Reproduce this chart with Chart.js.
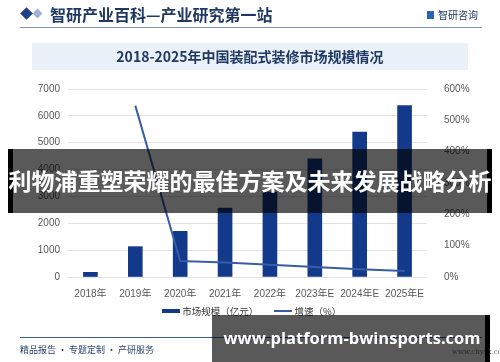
<!DOCTYPE html>
<html>
<head>
<meta charset="utf-8">
<script src="https://cdn.jsdelivr.net/npm/chart.js@4"></script>
<style>
  html, body { margin: 0; padding: 0; background: #fff; }
  #wrap { position: relative; width: 500px; height: 362px; overflow: hidden; font-family: "Noto Sans CJK SC", sans-serif; }
  #chart { position: absolute; left: 0; top: 0; }
  .abs { position: absolute; }
  #head { left: 50px; top: 3px; font-size: 16px; font-weight: bold; color: #1f3864; line-height: 22px; }
  .dia { width: 9px; height: 9px; transform: rotate(45deg); }
  #hline { left: 20px; top: 27px; width: 462px; height: 1px; background: #8594ad; }
  #logo { left: 438px; top: 8px; font-size: 10px; color: #1f3864; line-height: 14px; }
  #sub { left: 32px; top: 43px; width: 436px; height: 27px; background: #eaf1f8; color: #1f3864;
         font-size: 14px; font-weight: bold; text-align: center; line-height: 27px; }
  #legend { top: 303px; left: 162px; font-size: 9.5px; color: #333; line-height: 14px; white-space: nowrap; }
  #fline { left: 20px; top: 337px; width: 462px; height: 1px; background: #3b5a98; }
  #foot { left: 20px; top: 343px; font-size: 9px; color: #2d4470; line-height: 14px; }
  #site { left: 452px; top: 348px; font-size: 7px; color: #777; font-family: "DejaVu Serif", serif; }
  #banner { left: 8px; top: 149px; width: 474px; height: 64px; background: rgba(0,0,0,0.65);
            border-left: 5px solid #000; border-right: 5px solid #000; }
  #btext { left: -50px; top: 148px; width: 600px; height: 64px; color: #fff; font-weight: bold; font-size: 23px;
           text-align: center; line-height: 64px; white-space: nowrap; }
  #wm { left: 212px; top: 315px; width: 273px; height: 47px; background: rgba(0,0,0,0.65);
        border-right: 5px solid #000; }
  #wmtext { left: 202px; top: 315px; width: 300px; height: 47px; color: #fff; font-family: "Open Sans", sans-serif;
            font-weight: bold; font-size: 16.5px; text-align: center; line-height: 46px; white-space: nowrap; }
</style>
</head>
<body>
<div id="wrap">
  <canvas id="chart" width="500" height="362"></canvas>
  <div class="abs dia" style="left:22px;top:9px;background:#1f3f86;"></div>
  <div class="abs dia" style="left:34px;top:10px;width:7px;height:7px;background:#9db3d8;"></div>
  <div class="abs" id="head">智研产业百科—产业研究第一站</div>
  <div class="abs" style="left:427px;top:11px;width:7px;height:8px;background:#2a63b8;"></div>
  <div class="abs" id="logo">智研咨询</div>
  <div class="abs" id="hline"></div>
  <div class="abs" id="sub">2018-2025年中国装配式装修市场规模情况</div>
  <div class="abs" id="legend">
    <span style="display:inline-block;width:18px;height:4px;background:#12398a;vertical-align:middle;"></span>
    <span style="vertical-align:middle;">市场规模（亿元）</span>
    <span style="display:inline-block;width:18px;height:2px;background:#3a5ca8;vertical-align:middle;margin-left:14px;"></span>
    <span style="vertical-align:middle;">增速（%）</span>
  </div>
  <div class="abs" id="fline"></div>
  <div class="abs" id="foot">精品报告 · 专题定制 · 产研服务</div>
  <div class="abs" id="site">www.chyxx.com</div>
  <div class="abs" id="banner"></div>
  <div class="abs" id="btext">利物浦重塑荣耀的最佳方案及未来发展战略分析</div>
  <div class="abs" id="wm"></div>
  <div class="abs" id="wmtext">www.platform-bwinsports.com</div>
</div>
<script>
const years = ["2018年", "2019年", "2020年", "2021年", "2022年", "2023年E", "2024年E", "2025年E"];
const marketSize = [175, 1130, 1700, 2570, 3160, 4400, 5400, 6380];
const growth = [null, 547, 51, 46, 39, 32, 25, 19];

const tickFont = { family: "'Liberation Sans', 'Noto Sans CJK SC', sans-serif", size: 10 };

new Chart(document.getElementById("chart").getContext("2d"), {
  data: {
    labels: years,
    datasets: [
      {
        type: "line",
        label: "增速（%）",
        data: growth,
        yAxisID: "y1",
        borderColor: "#3a5ca8",
        borderWidth: 2,
        pointRadius: 0,
        tension: 0,
        order: 0,
      },
      {
        type: "bar",
        label: "市场规模（亿元）",
        data: marketSize,
        yAxisID: "y",
        backgroundColor: "#12398a",
        barThickness: 14,
        order: 1,
      },
    ],
  },
  options: {
    responsive: false,
    animation: false,
    devicePixelRatio: 1,
    layout: { padding: { top: 89, bottom: 65, left: 0, right: 0 } },
    plugins: { legend: { display: false }, tooltip: { enabled: false } },
    scales: {
      x: {
        grid: { display: false },
        border: { display: false },
        ticks: { font: tickFont, color: "#595959", padding: 3, maxRotation: 0, autoSkip: false },
        afterFit: (s) => { s.height = 20; },
      },
      y: {
        position: "left",
        min: 0,
        max: 7000,
        ticks: { stepSize: 1000, font: tickFont, color: "#595959", padding: 8, callback: (v) => String(v) },
        grid: { color: "#e2e2e2", drawTicks: false },
        border: { display: false },
        afterFit: (s) => { s.width = 68; },
      },
      y1: {
        position: "right",
        min: 0,
        max: 600,
        ticks: { stepSize: 100, font: tickFont, color: "#595959", padding: 9, callback: (v) => v + "%" },
        grid: { display: false },
        border: { display: false },
        afterFit: (s) => { s.width = 73; },
      },
    },
  },
});
</script>
</body>
</html>
